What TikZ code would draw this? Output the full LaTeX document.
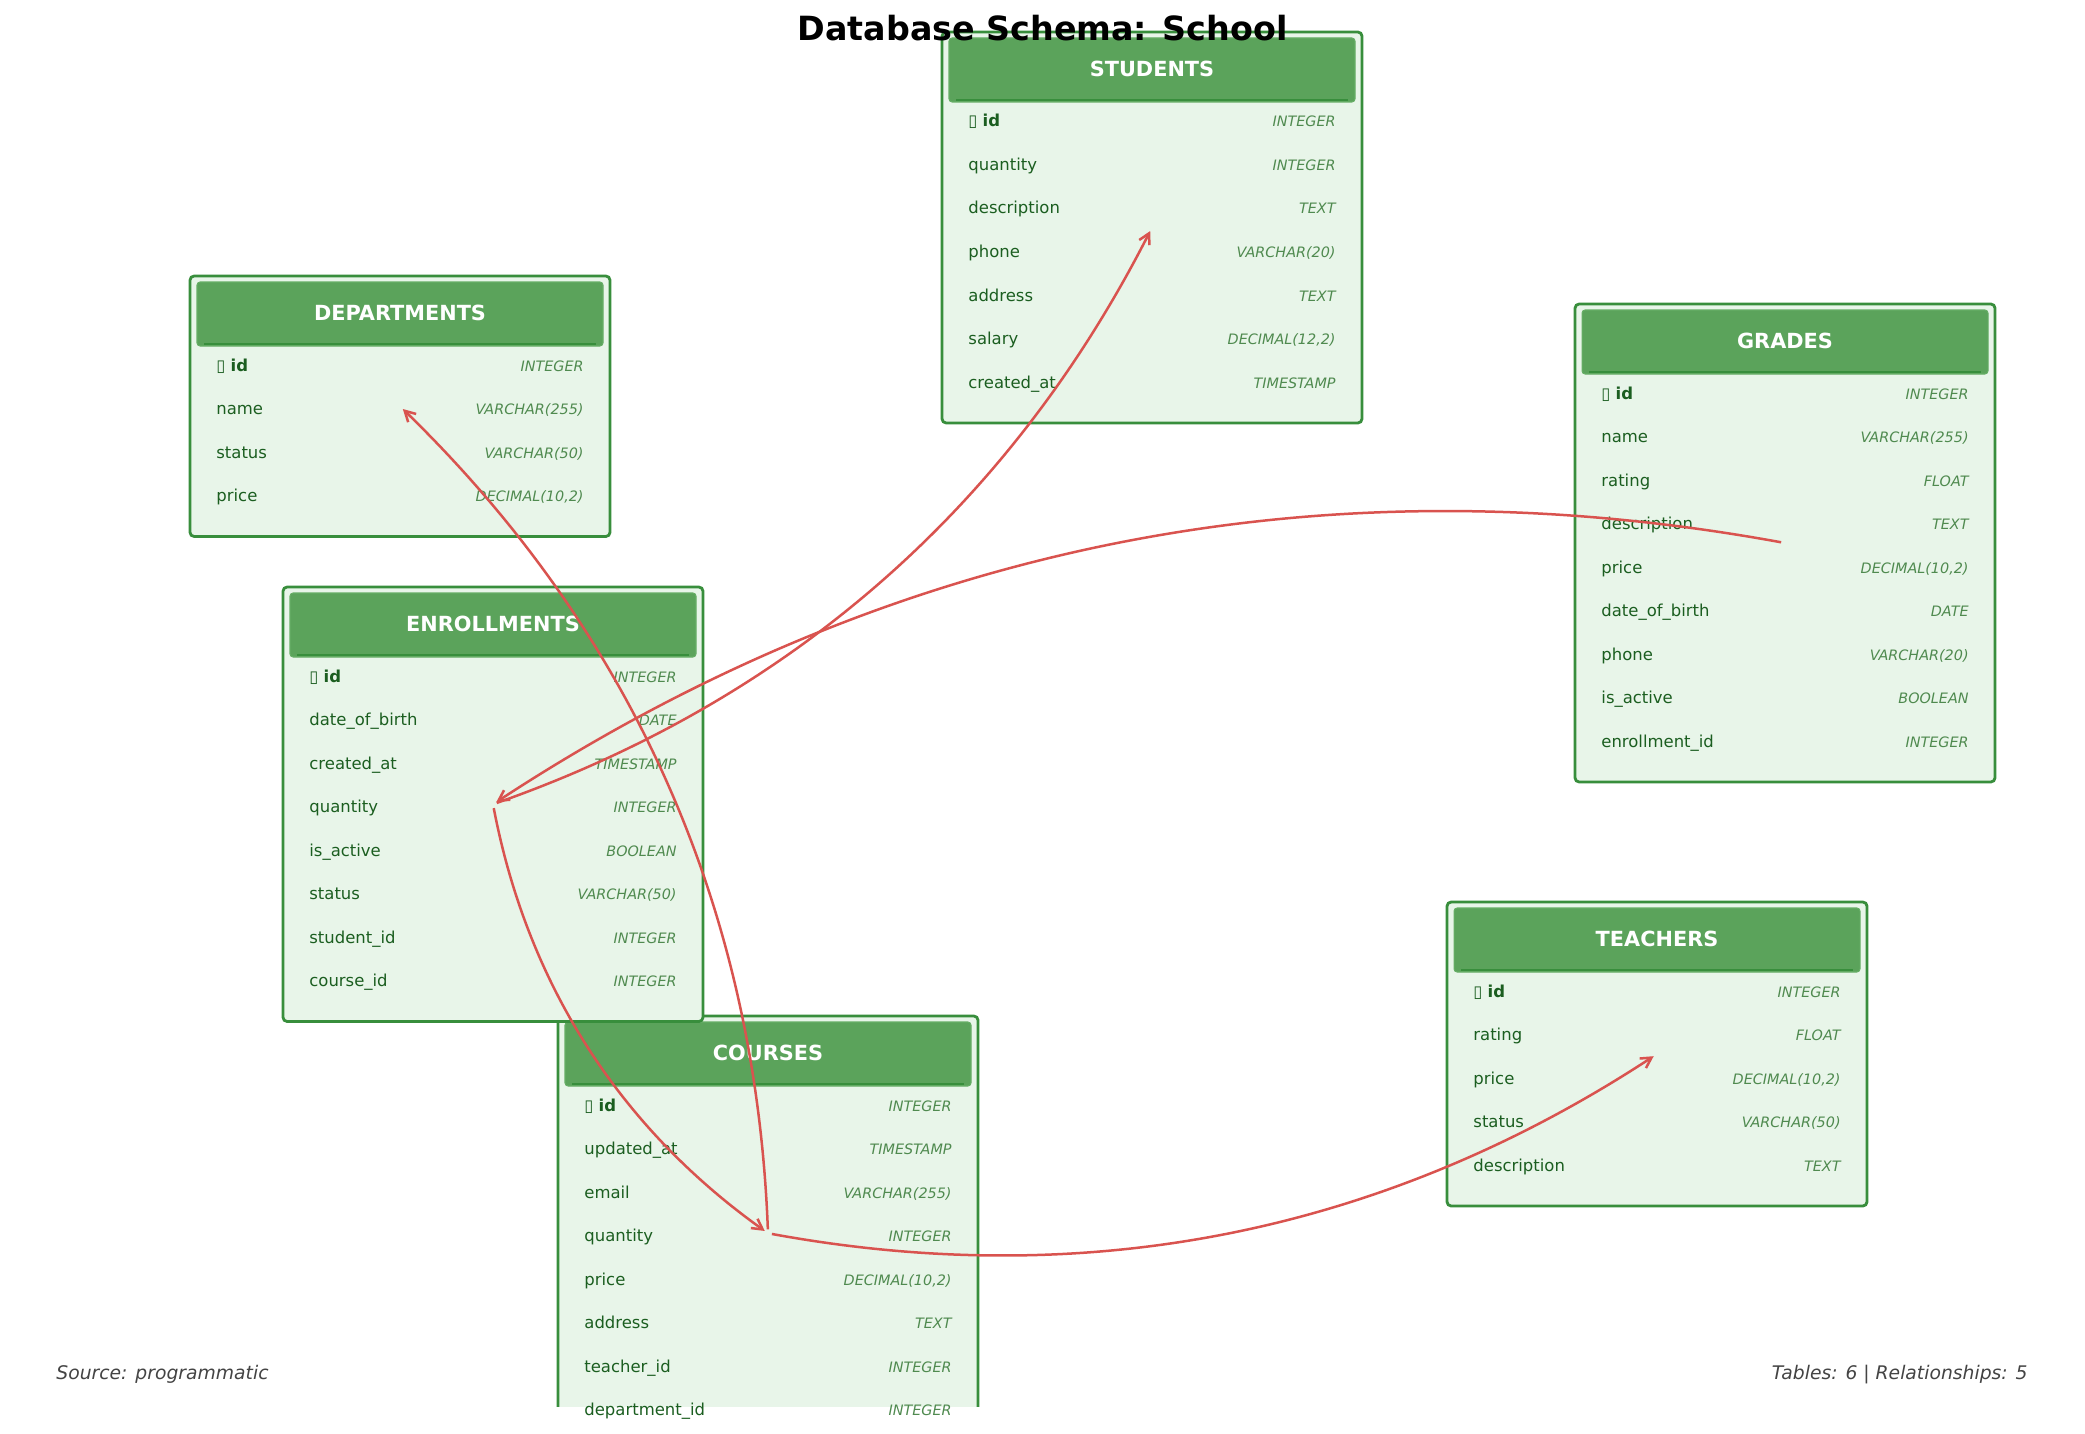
\documentclass[tikz,border=0pt]{standalone}
\usepackage{fontspec}
\setmainfont{DejaVu Sans}
\usetikzlibrary{calc,arrows.meta}
\definecolor{tborder}{HTML}{388E3C}
\definecolor{thead}{HTML}{5BA35B}
\definecolor{theadedge}{HTML}{66AE66}
\definecolor{tbody}{HTML}{E8F5E9}
\definecolor{tname}{HTML}{1B5E20}
\definecolor{ttype}{HTML}{4F8A4F}
\definecolor{relred}{HTML}{D9534F}
\definecolor{foottext}{HTML}{444444}
\tikzset{
  tblouter/.style={draw=tborder, line width=1.35pt, fill=tbody, rounded corners=2pt},
  tblhead/.style={fill=thead, draw=theadedge, line width=0.5pt, rounded corners=1.5pt},
  tblhline/.style={draw=tborder, line width=1pt},
  tbltitle/.style={text=white, font=\fontsize{10}{12}\selectfont\bfseries, inner sep=0pt},
  fname/.style={anchor=base west, inner sep=0pt, text=tname, font=\fontsize{7.9}{9}\selectfont},
  ftype/.style={anchor=base east, inner sep=0pt, text=ttype, font=\fontsize{6.9}{8}\selectfont\itshape},
  relline/.style={draw=relred, line width=1.2pt, -{Straight Barb[length=5pt,width=5.5pt]},
    shorten <=1.9pt, shorten >=1.9pt},
  foot/.style={inner sep=0pt, text=foottext, font=\fontsize{9}{11}\selectfont\itshape},
  maintitle/.style={inner sep=0pt, anchor=base, font=\fontsize{16}{19}\selectfont\bfseries}
}
\newcommand{\dbtable}[6]{%
  \pgfmathsetmacro{\tblB}{#3+86.5+#5*43.5}%
  \begin{scope}
    \clip (0,0) rectangle (2085,1406);
    \draw[tblouter] (#2,#3) rectangle (#2+420,\tblB);
    \draw[tblhead] (#2+7,#3+6) rectangle (#2+413,#3+70);
    \draw[tblhline] (#2+14,#3+68) -- (#2+406,#3+68);
  \end{scope}
  \coordinate (#1) at (#2+210,{(#3+\tblB)/2});
  \node[tbltitle] (#1-title) at (#2+210,#3+37) {#4};
  \node[fname] (#1-f0) at (#2+26,#3+95) {▯ \textbf{id}};
  \node[ftype] (#1-t0) at (#2+394,#3+95) {INTEGER};
  \foreach \n/\t [count=\i from 1] in {#6} {
    \node[fname] (#1-f\i) at (#2+26,#3+95+\i*43.5) {\n};
    \node[ftype] (#1-t\i) at (#2+394,#3+95+\i*43.5) {\t};
  }%
}
\newcommand{\relarrow}[3]{%
  \coordinate (#3-m) at ($(#1)!0.5!(#2)$);
  \coordinate (#3-c) at ($(#3-m)!0.4!-90:(#2)$);
  \draw[relline] (#1) .. controls ($(#1)!0.6667!(#3-c)$) and ($(#2)!0.6667!(#3-c)$) .. (#2);
}
\begin{document}
\begin{tikzpicture}[x=0.48pt,y=-0.48pt]
\useasboundingbox (0,0) rectangle (2085,1434);
\fill[white] (0,0) rectangle (2085,1434);

\dbtable{students}{942}{32}{STUDENTS}{7}{{quantity/INTEGER},{description/TEXT},{phone/VARCHAR(20)},{address/TEXT},{salary/DECIMAL(12,2)},{created\_at/TIMESTAMP}}
\dbtable{departments}{190}{276}{DEPARTMENTS}{4}{{name/VARCHAR(255)},{status/VARCHAR(50)},{price/DECIMAL(10,2)}}
\dbtable{grades}{1575}{304}{GRADES}{9}{{name/VARCHAR(255)},{rating/FLOAT},{description/TEXT},{price/DECIMAL(10,2)},{date\_of\_birth/DATE},{phone/VARCHAR(20)},{is\_active/BOOLEAN},{enrollment\_id/INTEGER}}
\dbtable{teachers}{1447}{902}{TEACHERS}{5}{{rating/FLOAT},{price/DECIMAL(10,2)},{status/VARCHAR(50)},{description/TEXT}}
\dbtable{courses}{558}{1016}{COURSES}{8}{{updated\_at/TIMESTAMP},{email/VARCHAR(255)},{quantity/INTEGER},{price/DECIMAL(10,2)},{address/TEXT},{teacher\_id/INTEGER},{department\_id/INTEGER}}
\dbtable{enrollments}{283}{587}{ENROLLMENTS}{8}{{date\_of\_birth/DATE},{created\_at/TIMESTAMP},{quantity/INTEGER},{is\_active/BOOLEAN},{status/VARCHAR(50)},{student\_id/INTEGER},{course\_id/INTEGER}}

\relarrow{enrollments}{students}{r1}
\relarrow{grades}{enrollments}{r2}
\relarrow{courses}{departments}{r3}
\relarrow{enrollments}{courses}{r4}
\relarrow{courses}{teachers}{r5}

\node[maintitle] (title) at (1042.5,41) {Database Schema: School};
\node[foot, anchor=base west] (source) at (56,1379) {Source: programmatic};
\node[foot, anchor=base east] (stats) at (2028,1379) {Tables: 6 | Relationships: 5};
\end{tikzpicture}
\end{document}
